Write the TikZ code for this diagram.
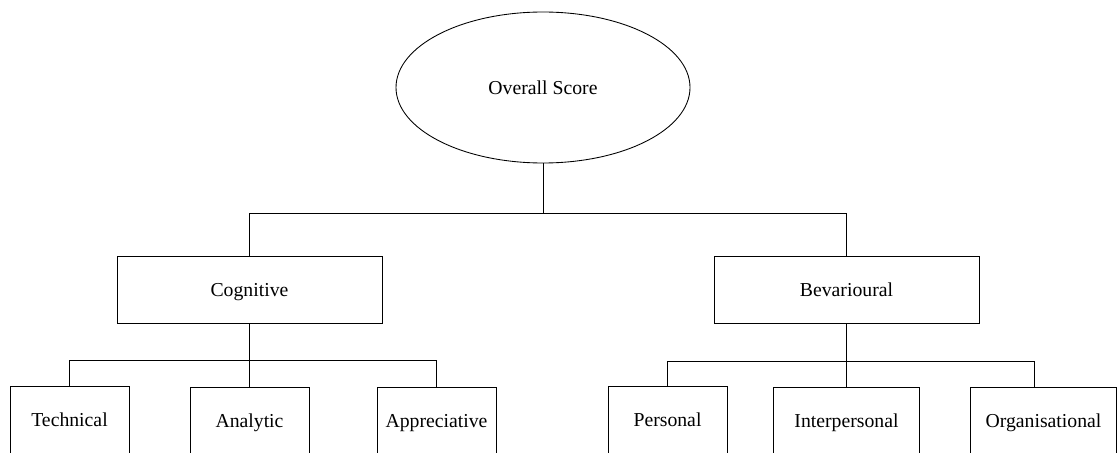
\documentclass[tikz,border=0pt]{standalone}
\usepackage{fontspec}
\setmainfont{Liberation Serif}
\usetikzlibrary{shapes.geometric}

\begin{document}
\begin{tikzpicture}[x=0.75pt,y=0.75pt,yscale=-1,xscale=1,
  every node/.style={font=\fontsize{14.8}{17}\selectfont, text height=9.8pt, text depth=0pt, inner sep=0pt},
  scorebox/.style={draw, ellipse, line width=0.65pt, minimum width=220.5pt, minimum height=113.25pt},
  groupbox/.style={draw, rectangle, line width=0.65pt, minimum width=198.75pt, minimum height=50.25pt},
  leafbox/.style={draw, rectangle, line width=0.65pt, minimum width=89.25pt, minimum height=50.25pt},
  wideleaf/.style={leafbox, minimum width=109.5pt},
  link/.style={line width=0.65pt}]
%set diagram size: 1117 x 453
\useasboundingbox (0,0) rectangle (1117,453);
\clip (0,0) rectangle (1117,453);

% Top Node
\node [scorebox] (over) at (543,87.5) {Overall Score};
% Group Nodes
\node [groupbox] (cog) at (249.5,289.5) {Cognitive};
\node [groupbox] (bev) at (846.5,289.5) {Bevarioural};
% Leaf Nodes
\node [leafbox] (tech) at (69.5,420) {Technical};
\node [leafbox] (ana) at (249.5,421) {Analytic};
\node [leafbox] (appr) at (436.5,421) {Appreciative};
\node [leafbox] (pers) at (667.5,420) {Personal};
\node [wideleaf] (inter) at (846.5,421) {Interpersonal};
\node [wideleaf] (org) at (1043.5,421) {Organisational};

%Connectors
\draw [link] (over.south) -- ++(0,50) coordinate (topbar);
\draw [link] (topbar) -| (cog.north);
\draw [link] (topbar) -| (bev.north);
\draw [link] (cog.south) -- (cog.south |- ana.north);
\path (cog.south) ++(0,37) coordinate (cogbar);
\draw [link] (tech.north) |- (cogbar) -| (appr.north);
\draw [link] (bev.south) -- (bev.south |- inter.north);
\path (bev.south) ++(0,38) coordinate (bevbar);
\draw [link] (pers.north) |- (bevbar) -| ([xshift=-7pt]org.north);

\end{tikzpicture}
\end{document}
